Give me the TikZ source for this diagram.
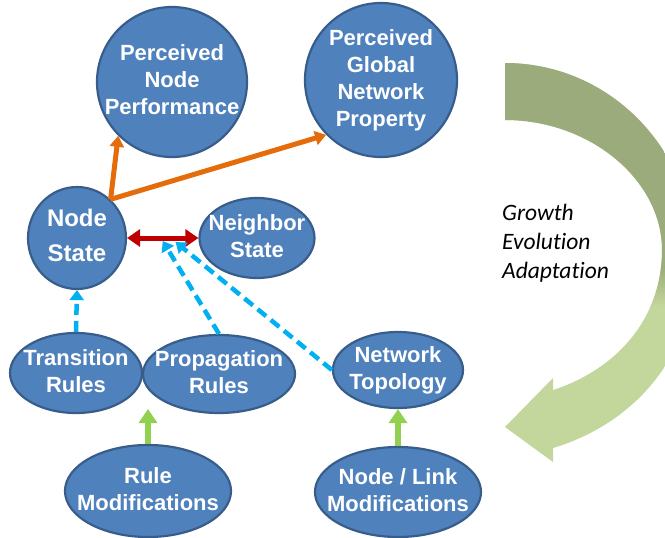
\documentclass[tikz,border=0pt]{standalone}
\usepackage{fontspec}
\setmainfont{Liberation Sans}
\newfontfamily\growthfont[Ligatures=NoCommon]{Carlito}
\usetikzlibrary{shapes.geometric,arrows.meta,calc}
\definecolor{nodefill}{HTML}{4F81BD}
\definecolor{nodeedge}{HTML}{385D8A}
\definecolor{orangec}{HTML}{E46C0A}
\definecolor{redc}{HTML}{C00000}
\definecolor{cyanc}{HTML}{00B0F0}
\definecolor{greenc}{HTML}{92D050}
\definecolor{darkolive}{HTML}{9BAB7B}
\definecolor{lightolive}{HTML}{C3D69B}
\newcommand\ntxt[1]{\smash{\makebox[0pt]{\raisebox{-5.5pt}{\begin{tabular}{@{}c@{}}#1\end{tabular}}}}}
\begin{document}
\begin{tikzpicture}[x=1pt,y=-1pt,
  bub/.style={ellipse, draw=nodeedge, fill=nodefill, line width=2.2pt, inner sep=0pt, text=white,
    font=\fontsize{22}{27}\selectfont\bfseries},
  orangearr/.style={draw=orangec, line width=5pt, -{Triangle[width=14pt,length=11pt]}},
  redarr/.style={draw=redc, line width=5pt, {Triangle[width=17pt,length=13pt]}-{Triangle[width=17pt,length=13pt]}},
  cyanarr/.style={draw=cyanc, line width=4.5pt, dash pattern=on 11pt off 6pt, -{Triangle[width=14pt,length=10pt]}},
  greenarr/.style={draw=greenc, line width=6pt, -{Triangle[width=18pt,length=14pt]}},
  gtext/.style={inner sep=0pt, align=left, font=\growthfont\itshape\fontsize{23.5}{29}\selectfont}]
\useasboundingbox (0,0) rectangle (665,538);
\begin{scope}
  \clip (0,0) rectangle (665,538);
  \clip (505,63) .. controls (610,63) and (695,150) .. (695,260)
    .. controls (695,360) and (630,425) .. (553,448) -- (553,462) -- (505,427) -- (553,378) -- (553,390)
    .. controls (615,370) and (662,320) .. (662,250)
    .. controls (662,180) and (590,120) .. (505,120) -- cycle;
  \fill[lightolive] (480,0) rectangle (700,538);
  \fill[darkolive] (480,0) rectangle (700,268);
  \shade[top color=darkolive, bottom color=lightolive] (480,267) rectangle (700,306);
\end{scope}
\node[gtext, anchor=north west] (gea) at (502,204) {Growth\\Evolution\\Adaptation};

\node[bub, minimum width=150pt, minimum height=150pt] (pnp) at (172,82) {\ntxt{Perceived\\Node\\Performance}};
\node[bub, minimum width=152pt, minimum height=154pt] (pgn) at (381,80) {\ntxt{Perceived\\Global\\Network\\Property}};
\node[bub, minimum width=98pt, minimum height=102pt, font=\fontsize{24}{35}\selectfont\bfseries] (ns) at (77,238) {\ntxt{Node\\State}};
\node[bub, minimum width=115pt, minimum height=80pt] (nb) at (257,238) {\ntxt{Neighbor\\State}};
\node[bub, minimum width=132pt, minimum height=80pt] (tr) at (76,373) {\ntxt{Transition\\Rules}};
\node[bub, minimum width=152pt, minimum height=78pt] (pr) at (219,374) {\ntxt{Propagation\\Rules}};
\node[bub, minimum width=130pt, minimum height=76pt] (nt) at (398,370) {\ntxt{Network\\Topology}};
\node[bub, minimum width=166pt, minimum height=92pt] (rm) at (148,491) {\ntxt{Rule\\Modifications}};
\node[bub, minimum width=166pt, minimum height=90pt] (nl) at (398,492) {\ntxt{Node / Link\\Modifications}};

\draw[orangearr] (ns.49) -- (pnp.225);
\draw[orangearr] (ns.49) -- (pgn.225);
\draw[redarr] (ns.east) -- (nb.west);
\coordinate (pa) at ($(ns.east)!0.5!(nb.west)+(0,3)$);
\coordinate (ta) at ($(ns.east)!0.68!(nb.west)+(0,4)$);
\draw[cyanarr] (tr.north) -- (ns.south);
\draw[cyanarr] (pr.north) -- (pa);
\draw[cyanarr] (nt.west) -- (ta);
\coordinate (rmtip) at (148,409);
\draw[greenarr] (rm.north) -- (rmtip);
\draw[greenarr] (nl.north) -- (nt.south);
\end{tikzpicture}
\end{document}
